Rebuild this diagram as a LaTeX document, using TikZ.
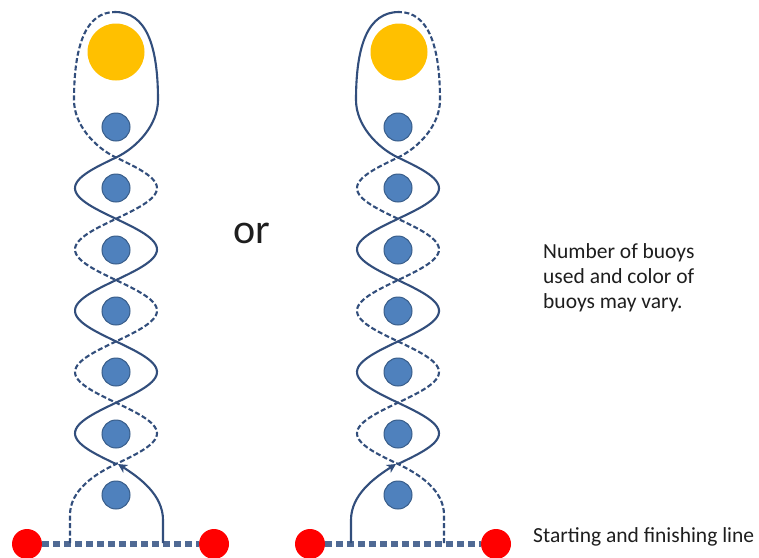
\documentclass[tikz,border=0pt]{standalone}
\usepackage{fontspec}
\setmainfont{Carlito}
\usetikzlibrary{arrows.meta}
\definecolor{strandc}{RGB}{50,78,124}
\definecolor{buoyfill}{RGB}{79,129,189}
\definecolor{buoyedge}{RGB}{56,93,138}
\definecolor{goldc}{RGB}{255,192,0}
\definecolor{redc}{RGB}{255,0,0}
\definecolor{linec}{RGB}{80,106,148}
\definecolor{textc}{RGB}{30,30,30}
\tikzset{
  buoy/.style={circle, fill=buoyfill, draw=buoyedge, line width=1pt, minimum size=28pt, inner sep=0pt},
  markbuoy/.style={circle, fill=goldc, minimum size=57pt, inner sep=0pt},
  endbuoy/.style={circle, fill=redc, minimum size=30pt, inner sep=0pt},
  strandsolid/.style={draw=strandc, line width=2.1pt},
  stranddash/.style={strandsolid, dash pattern=on 5pt off 2.5pt},
  startline/.style={draw=linec, line width=5.5pt, dash pattern=on 7pt off 4pt},
  label/.style={text=textc, inner sep=0pt, font=\fontsize{21.5}{25}\selectfont}
}
\newcommand{\buoycolumn}[4]{%
  \node[markbuoy] (#1gold) at (#4,52) {};
  \foreach \i/\yy in {1/127,2/188,3/250,4/311,5/372,6/434,7/495} {
    \node[buoy] (#1b\i) at (#2,\yy) {};
  }
  \draw[stranddash] ({#2+(#3)*(-46)},543) -- ({#2+(#3)*(-46)},515)
    .. controls ({#2+(#3)*(-46)},490) and ({#2+(#3)*(-21)},474) .. (#2,464)
    -- plot[domain=464:157.5,samples=150] ({#2+(#3)*41*sin(2.93638*(464-\x))},\x)
    .. controls ({#2+(#3)*(-21)},147.5) and ({#2+(#3)*(-42)},125) .. ({#2+(#3)*(-42)},100)
    .. controls ({#2+(#3)*(-42)},45) and ({#2+(#3)*(-30)},12) .. ({#2-(#3)},12);
  \draw[strandsolid] (#2,464)
    -- plot[domain=464:157.5,samples=150] ({#2-(#3)*41*sin(2.93638*(464-\x))},\x)
    .. controls ({#2+(#3)*21},147.5) and ({#2+(#3)*42},125) .. ({#2+(#3)*42},100)
    .. controls ({#2+(#3)*42},45) and ({#2+(#3)*30},12) .. ({#2-(#3)},12);
  \draw[strandsolid, -{Stealth[length=9pt,width=9pt,inset=2.5pt]}] ({#2+(#3)*47},543) -- ({#2+(#3)*47},520)
    .. controls ({#2+(#3)*47},495) and ({#2+(#3)*24},478) .. ({#2+(#3)*2},464);
}
\begin{document}
\begin{tikzpicture}[x=1pt,y=-1pt]
\useasboundingbox (0,0) rectangle (759,557);
\fill[white] (0,0) rectangle (759,557);
% start lines
\node[endbuoy] (la) at (27,544) {};
\node[endbuoy] (lb) at (214,544) {};
\node[endbuoy] (ra) at (310,544) {};
\node[endbuoy] (rb) at (496,544) {};
\draw[startline] (la.east) -- (lb.west);
\draw[startline] (ra.east) -- (rb.west);
\buoycolumn{L}{116}{1}{116}
\buoycolumn{R}{398}{-1}{399}
\node[anchor=base, text=textc, inner sep=0pt, font=\fontsize{42}{48}\selectfont] (orword) at (252,243) {or};
\node[label, anchor=base west, align=left] (note) at (543,308) {Number of buoys\\used and color of\\buoys may vary.};
\node[label, anchor=base west] (linelabel) at (533,542) {Starting and finishing line};
\end{tikzpicture}
\end{document}
